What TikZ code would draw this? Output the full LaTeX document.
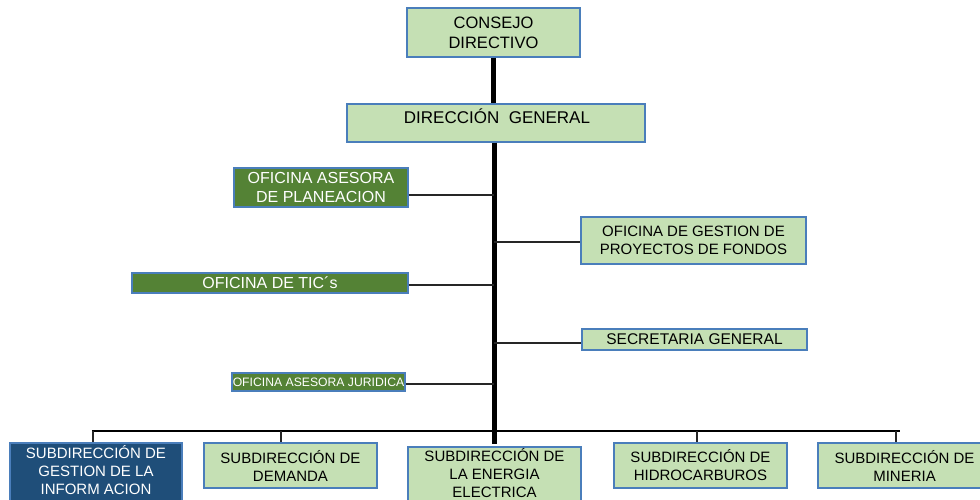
\documentclass[tikz,border=0pt]{standalone}
\usepackage{fontspec}
\setmainfont{Liberation Sans}
\definecolor{lgreen}{HTML}{C5E0B4}
\definecolor{dgreen}{HTML}{548235}
\definecolor{dblue}{HTML}{1F4E79}
\definecolor{bcol}{HTML}{4A7EBB}
\tikzset{
  box/.style={draw=bcol, line width=1.2pt, fill=lgreen, inner sep=0pt, align=center, font=\fontsize{15}{18}\selectfont},
  gbox/.style={box, fill=dgreen, text=white},
  bbox/.style={box, fill=dblue, text=white},
  txt/.style={inner sep=0pt, align=center, font=\fontsize{15}{18}\selectfont},
  trunk/.style={line width=4.5pt},
  conn/.style={line width=1.3pt, draw=black!85},
  bus/.style={line width=2.4pt},
}
\begin{document}
\begin{tikzpicture}[x=1pt,y=-1pt]
\useasboundingbox (0,0) rectangle (980,499);
% top
\node[box, minimum width=173, minimum height=49, font=\fontsize{16.5}{20}\selectfont] (cd) at (493.5,32.5) {CONSEJO\\DIRECTIVO};
\node[box, minimum width=298, minimum height=38] (dg) at (496,123) {};
\node[txt, font=\fontsize{17}{20}\selectfont] (dgt) at (497,116) {DIRECCI\'ON\ \ GENERAL};
% side offices
\node[gbox, minimum width=174, minimum height=39, font=\fontsize{16}{19}\selectfont] (oap) at (321,187.5) {OFICINA ASESORA\\DE PLANEACION};
\node[gbox, minimum width=276, minimum height=20, font=\fontsize{16}{19}\selectfont] (otic) at (270,283) {OFICINA DE TIC´s};
\node[box, minimum width=225, minimum height=47] (ogp) at (693.5,240.5) {OFICINA DE GESTION DE\\PROYECTOS DE FONDOS};
\node[box, minimum width=225, minimum height=21, font=\fontsize{15.5}{18}\selectfont] (sgen) at (694.5,339.5) {SECRETARIA GENERAL};
\node[gbox, minimum width=173, minimum height=18, font=\fontsize{12.2}{14}\selectfont] (ojur) at (318.5,382) {OFICINA ASESORA JURIDICA};
% bottom
\node[bbox, minimum width=172, minimum height=80] (sgi) at (96,483) {};
\node[txt, text=white] (sgit) at (96,470.5) {SUBDIRECCIÓN DE\\GESTION DE LA\\INFORM ACION};
\node[box, minimum width=173, minimum height=45] (sdem) at (290.5,465.5) {SUBDIRECCIÓN DE\\DEMANDA};
\node[box, minimum width=173, minimum height=80] (sen) at (494.5,487) {};
\node[txt] (sent) at (494.5,473) {SUBDIRECCIÓN DE\\LA ENERGIA\\ELECTRICA};
\node[box, minimum width=173, minimum height=45] (shid) at (700.5,465.5) {SUBDIRECCIÓN DE\\HIDROCARBUROS};
\node[box, minimum width=173, minimum height=45] (smin) at (904.5,465.5) {SUBDIRECCIÓN DE\\MINERIA};
% trunk
\draw[trunk] (cd.south) -- (cd.south |- dg.north);
\coordinate (tb) at (494.5,444);
\draw[trunk] (tb |- dg.south) -- (tb);
% junctions
\coordinate (j1) at (494,195);
\coordinate (j2) at (494,285);
\coordinate (j3) at (494,242);
\coordinate (j4) at (494,343);
\coordinate (j5) at (494,384);
\draw[conn] (j1 -| oap.east) -- (j1);
\draw[conn] (j2 -| otic.east) -- (j2);
\draw[conn] (j3) -- (j3 -| ogp.west);
\draw[conn] (j4) -- (j4 -| sgen.west);
\draw[conn] (j5 -| ojur.east) -- (j5);
% bus
\coordinate (b1) at (93,431);
\coordinate (b2) at (281,431);
\coordinate (b4) at (697,431);
\coordinate (b5) at (896,431);
\coordinate (bR) at (900,431);
\draw[bus] ([xshift=-1.2]b1) -- (bR);
\draw[conn] (b1) -- (b1 |- sgi.north);
\draw[conn] (b2) -- (b2 |- sdem.north);
\draw[conn] (b4) -- (b4 |- shid.north);
\draw[conn] (b5) -- (b5 |- smin.north);
\end{tikzpicture}
\end{document}
